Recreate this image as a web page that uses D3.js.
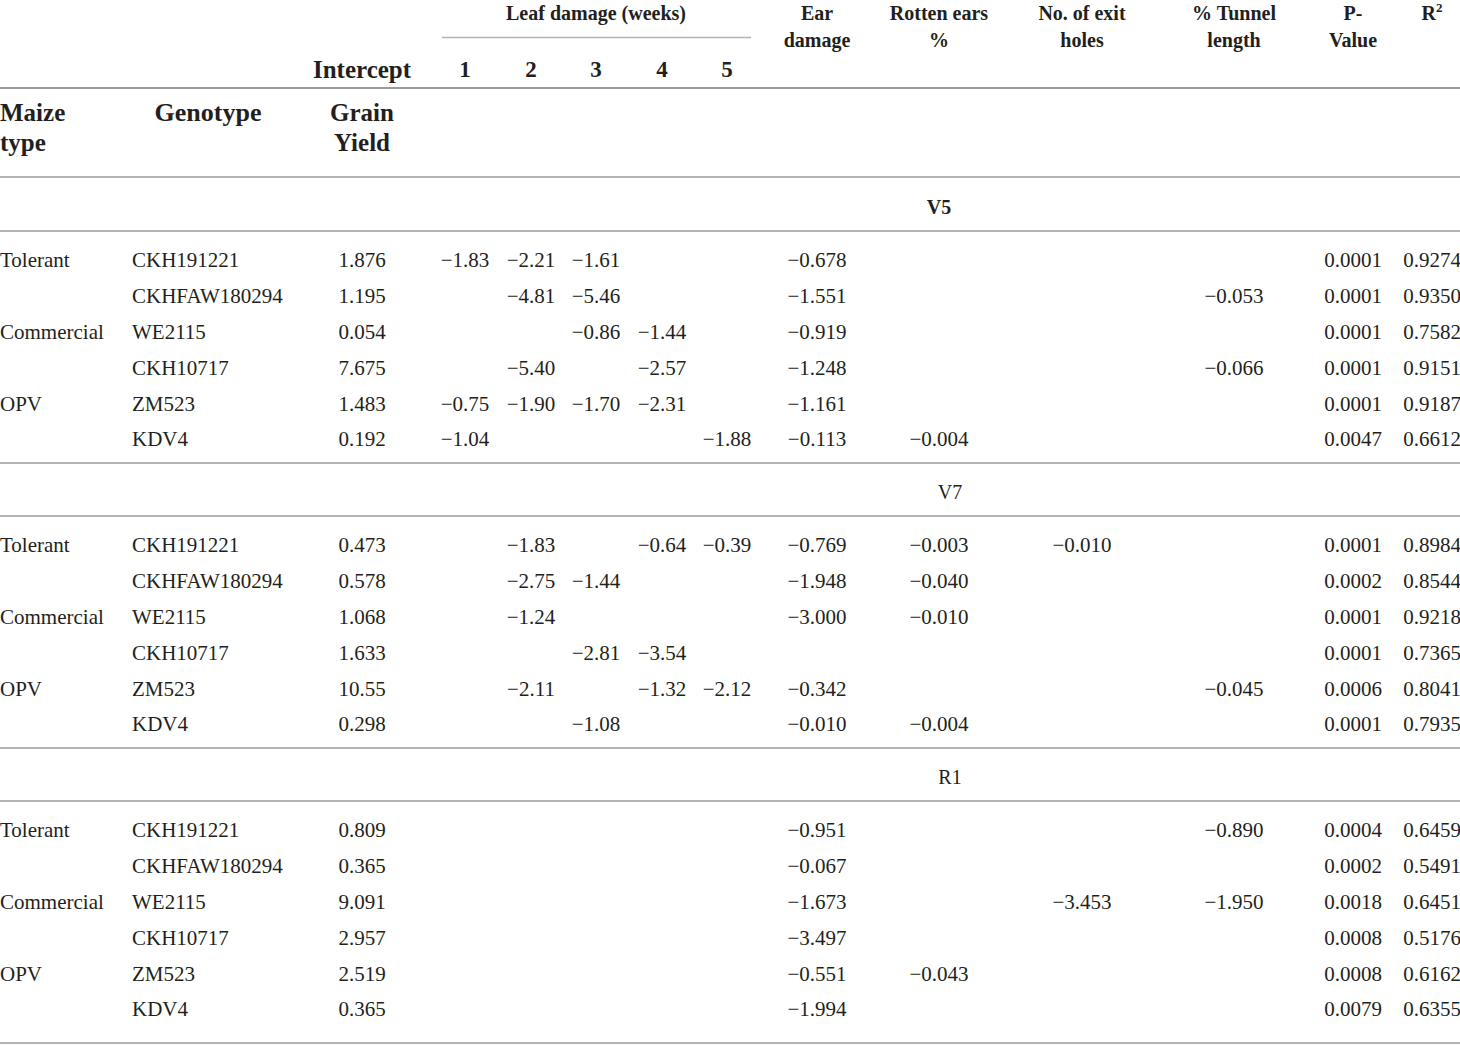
<!DOCTYPE html>
<html><head><meta charset="utf-8">
<script src="https://cdn.jsdelivr.net/npm/d3@7"></script>
<style>
html,body{margin:0;padding:0;background:#fff;}
svg{display:block;}
text{font-family:"Liberation Serif","Times New Roman",serif;fill:#231f20;}
</style></head><body>
<svg id="chart" width="1460" height="1045"></svg>
<script>
// ---- data ----
const stages = ["V5", "V7", "R1"];
const maizeTypes = ["Tolerant", "", "Commercial", "", "OPV", ""];
const genotypes = ["CKH191221", "CKHFAW180294", "WE2115", "CKH10717", "ZM523", "KDV4"];
const columns = ["intercept", "l1", "l2", "l3", "l4", "l5", "ear", "rotten", "exit", "tunnel", "p", "r2"];
const leafWeeks = ["1", "2", "3", "4", "5"];

const interceptV5 = ["1.876", "1.195", "0.054", "7.675", "1.483", "0.192"];
const interceptV7 = ["0.473", "0.578", "1.068", "1.633", "10.55", "0.298"];
const interceptR1 = ["0.809", "0.365", "9.091", "2.957", "2.519", "0.365"];

const leafV5 = [
  ["−1.83", "−2.21", "−1.61", "", ""],
  ["", "−4.81", "−5.46", "", ""],
  ["", "", "−0.86", "−1.44", ""],
  ["", "−5.40", "", "−2.57", ""],
  ["−0.75", "−1.90", "−1.70", "−2.31", ""],
  ["−1.04", "", "", "", "−1.88"]
];
const leafV7 = [
  ["", "−1.83", "", "−0.64", "−0.39"],
  ["", "−2.75", "−1.44", "", ""],
  ["", "−1.24", "", "", ""],
  ["", "", "−2.81", "−3.54", ""],
  ["", "−2.11", "", "−1.32", "−2.12"],
  ["", "", "−1.08", "", ""]
];
const leafR1 = [
  ["", "", "", "", ""], ["", "", "", "", ""], ["", "", "", "", ""],
  ["", "", "", "", ""], ["", "", "", "", ""], ["", "", "", "", ""]
];

const earV5 = ["−0.678", "−1.551", "−0.919", "−1.248", "−1.161", "−0.113"];
const earV7 = ["−0.769", "−1.948", "−3.000", "", "−0.342", "−0.010"];
const earR1 = ["−0.951", "−0.067", "−1.673", "−3.497", "−0.551", "−1.994"];

const rottenV5 = ["", "", "", "", "", "−0.004"];
const rottenV7 = ["−0.003", "−0.040", "−0.010", "", "", "−0.004"];
const rottenR1 = ["", "", "", "", "−0.043", ""];

const exitV5 = ["", "", "", "", "", ""];
const exitV7 = ["−0.010", "", "", "", "", ""];
const exitR1 = ["", "", "−3.453", "", "", ""];

const tunnelV5 = ["", "−0.053", "", "−0.066", "", ""];
const tunnelV7 = ["", "", "", "", "−0.045", ""];
const tunnelR1 = ["−0.890", "", "−1.950", "", "", ""];

const pV5 = ["0.0001", "0.0001", "0.0001", "0.0001", "0.0001", "0.0047"];
const pV7 = ["0.0001", "0.0002", "0.0001", "0.0001", "0.0006", "0.0001"];
const pR1 = ["0.0004", "0.0002", "0.0018", "0.0008", "0.0008", "0.0079"];

const r2V5 = ["0.9274", "0.9350", "0.7582", "0.9151", "0.9187", "0.6612"];
const r2V7 = ["0.8984", "0.8544", "0.9218", "0.7365", "0.8041", "0.7935"];
const r2R1 = ["0.6459", "0.5491", "0.6451", "0.5176", "0.6162", "0.6355"];

// build table
const sections = [
  {stage: stages[0], intercept: interceptV5, leaf: leafV5, ear: earV5, rotten: rottenV5, exit: exitV5, tunnel: tunnelV5, p: pV5, r2: r2V5, bold: true},
  {stage: stages[1], intercept: interceptV7, leaf: leafV7, ear: earV7, rotten: rottenV7, exit: exitV7, tunnel: tunnelV7, p: pV7, r2: r2V7, bold: false},
  {stage: stages[2], intercept: interceptR1, leaf: leafR1, ear: earR1, rotten: rottenR1, exit: exitR1, tunnel: tunnelR1, p: pR1, r2: r2R1, bold: false}
];

// ---- layout ----
const svg = d3.select("#chart");
const W = 1460;
const colX = d3.scaleOrdinal()
  .domain(columns)
  .range([362, 465, 531, 596, 662, 727, 817, 939, 1082, 1234, 1353, 1432]);
const rowY = d3.scaleLinear().domain([0, 1]).range([260, 295.8]);
const sectionOffset = d3.scaleLinear().domain([0, 1]).range([0, 285]);
const lineColor = "#b3b3b3";

function hline(y, x1, x2, color, w) {
  svg.append("line").attr("x1", x1).attr("x2", x2).attr("y1", y).attr("y2", y)
    .attr("stroke", color).attr("stroke-width", w);
}
function txt(x, y, s, opts = {}) {
  return svg.append("text").attr("x", x).attr("y", y)
    .attr("dy", "0.35em")
    .attr("text-anchor", opts.anchor || "middle")
    .attr("font-size", opts.size || 21)
    .attr("font-weight", opts.bold ? "bold" : "normal")
    .text(s);
}

// ---- header ----
const hs = 20;
txt(596, 13, "Leaf damage (weeks)", {bold: true, size: hs});
hline(37.5, 442, 751, lineColor, 1.5);
[["Ear", "damage", "ear"], ["Rotten ears", "%", "rotten"], ["No. of exit", "holes", "exit"],
 ["% Tunnel", "length", "tunnel"], ["P-", "Value", "p"]].forEach(([a, b, k]) => {
  txt(colX(k), 13, a, {bold: true, size: hs});
  txt(colX(k), 40, b, {bold: true, size: hs});
});
const r2t = txt(colX("r2"), 13, "R", {bold: true, size: hs});
r2t.append("tspan").attr("font-size", 13).attr("dy", "-0.6em").text("2");

txt(colX("intercept"), 69, "Intercept", {bold: true, size: 25});
leafWeeks.forEach((w, i) => txt(colX("l" + (i + 1)), 69, w, {bold: true, size: 23}));
hline(88, 0, W, "#9a9a9a", 2);

txt(0, 112, "Maize", {bold: true, size: 25, anchor: "start"});
txt(0, 142, "type", {bold: true, size: 25, anchor: "start"});
txt(208, 112, "Genotype", {bold: true, size: 26});
txt(colX("intercept"), 112, "Grain", {bold: true, size: 25});
txt(colX("intercept"), 142, "Yield", {bold: true, size: 25});
hline(177, 0, W, lineColor, 2);

// ---- body ----
sections.forEach((sec, s) => {
  const off = sectionOffset(s);
  txt(s === 0 ? 939 : 950, 207 + off, sec.stage, {bold: sec.bold, size: 20});
  hline(231 + off, 0, W, lineColor, 2);
  genotypes.forEach((g, i) => {
    const y = rowY(i) + off;
    if (maizeTypes[i]) txt(0, y, maizeTypes[i], {anchor: "start"});
    txt(132, y, g, {anchor: "start"});
    const vals = {
      intercept: sec.intercept[i],
      l1: sec.leaf[i][0], l2: sec.leaf[i][1], l3: sec.leaf[i][2], l4: sec.leaf[i][3], l5: sec.leaf[i][4],
      ear: sec.ear[i], rotten: sec.rotten[i], exit: sec.exit[i], tunnel: sec.tunnel[i], p: sec.p[i], r2: sec.r2[i]
    };
    columns.forEach(c => { if (vals[c]) txt(colX(c), y, vals[c]); });
  });
  const endY = s < sections.length - 1 ? rowY(5) + off + 24 : 1043;
  hline(endY, 0, W, lineColor, 2);
});
</script>
</body></html>
